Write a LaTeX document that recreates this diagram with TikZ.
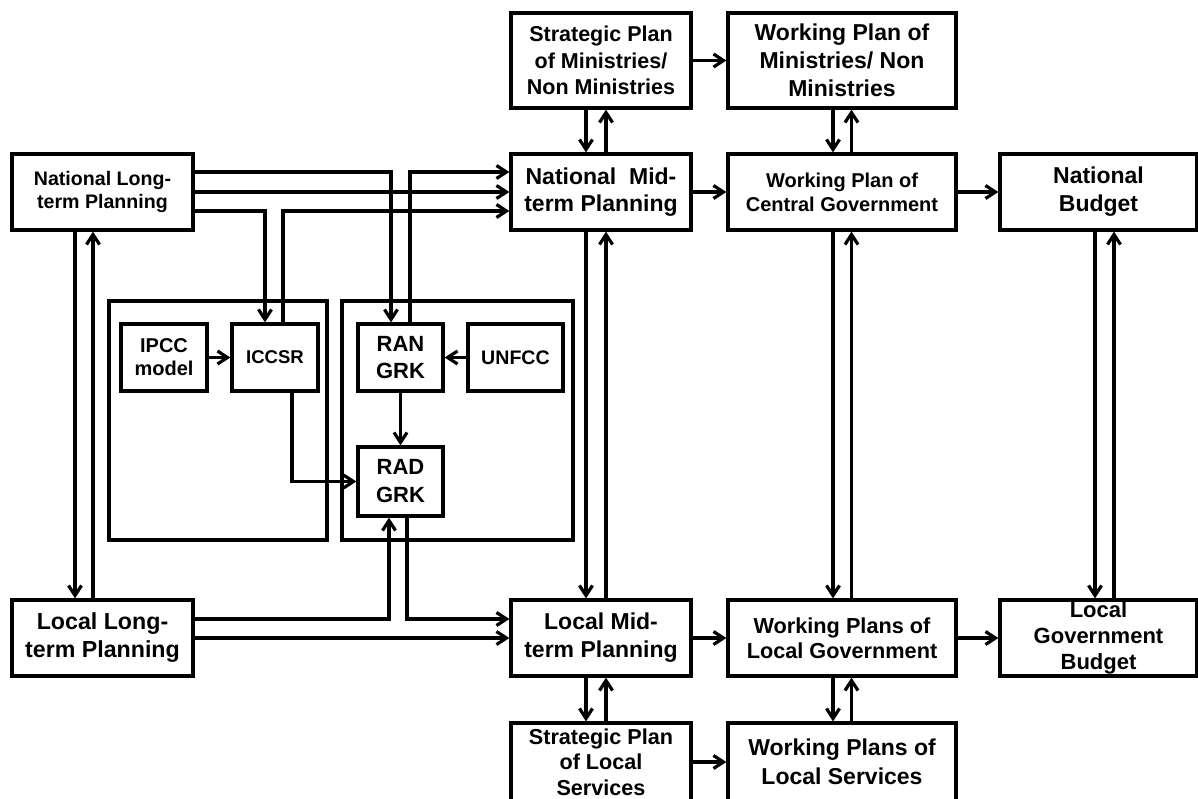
\documentclass[tikz,border=0pt]{standalone}
\usepackage{fontspec}
\setmainfont{Liberation Sans}
\usetikzlibrary{arrows.meta,calc}

\begin{document}
\begin{tikzpicture}[x=1pt,y=-1pt,
  line width=3.2pt,
  >={Straight Barb[length=10pt,width=13pt]},
  box/.style={draw, rectangle, inner sep=0pt, align=center},
  txt/.style 2 args={font={\fontsize{#1pt}{#2pt}\selectfont\bfseries}},
  wide/.style={minimum width=228pt},
  mid/.style={minimum width=180pt},
  row/.style={minimum height=76pt}
]
\clip (0,0) rectangle (1198,798);
\fill[white] (0,0) rectangle (1198,798);

% group frames
\draw (109,301) rectangle (327,540);
\draw (342,301) rectangle (573,540);

% long-term planning
\node[box, minimum width=181pt, row, txt={19.6}{23}] (NLP) at (102.5,192) {National Long-\\term Planning};
\node[box, minimum width=181pt, row, txt={23.2}{28}] (LLP) at (102.5,638) {Local Long-\\term Planning};

% national level
\node[box, mid, minimum height=95pt, txt={21.5}{26.5}] (SPM) at (601,60.5) {Strategic Plan\\of Ministries/\\Non Ministries};
\node[box, wide, minimum height=95pt, txt={23}{28}] (WPM) at (842,60.5) {Working Plan of\\Ministries/ Non\\Ministries};
\node[box, mid, row, txt={23}{27}] (NMP) at (601,192) {National\ \ Mid-\\term Planning};
\node[box, wide, row, txt={20}{24}] (WPC) at (842,192) {Working Plan of\\Central Government};
\node[box, minimum width=197pt, row, txt={23}{28}] (NB) at (1098.5,192) {National\\Budget};

% local level
\node[box, mid, row, txt={23}{28}] (LMP) at (601,638) {Local Mid-\\term Planning};
\node[box, wide, row, txt={21.7}{25}] (WPLG) at (842,638) {Working Plans of\\Local Government};
\node[box, minimum width=197pt, row, txt={22}{26}] (LGB) at (1098.5,638) {Local\\Government\\Budget};
\node[box, mid, minimum height=78pt, txt={21.6}{25.5}] (SPLS) at (601,762) {Strategic Plan\\of Local\\Services};
\node[box, wide, minimum height=78pt, txt={23}{29}] (WPLS) at (842,762) {Working Plans of\\Local Services};

% climate inputs
\node[box, minimum width=86pt, minimum height=67pt, txt={20}{23}] (IPCC) at (164,357.5) {IPCC\\model};
\node[box, minimum width=86pt, minimum height=67pt, txt={18.5}{22}] (ICCSR) at (275,357.5) {ICCSR};
\node[box, minimum width=85pt, minimum height=67pt, txt={22}{27}] (RAN) at (400.5,357.5) {RAN\\GRK};
\node[box, minimum width=95pt, minimum height=67pt, txt={19.6}{23}] (UNFCC) at (515.5,357.5) {UNFCC};
\node[box, minimum width=85pt, minimum height=69pt, txt={22}{28}] (RAD) at (400.5,481.5) {RAD\\GRK};

% inner links
\draw[->] (IPCC) -- (ICCSR);
\draw[->] (UNFCC) -- (RAN);
\draw[->] (RAN) -- (RAD);
\draw[->] ($(ICCSR.south)+(17,0)$) |- (RAD.west);

% national long-term outputs
\draw[->] ($(NLP.east)+(0,-20)$) -| ($(RAN.north)+(-9.5,0)$);
\draw[->] ($(RAN.north)+(9.5,0)$) |- ($(NMP.west)+(0,-20)$);
\draw[->] (NLP.east) -- (NMP.west);
\draw[->] ($(NLP.east)+(0,19)$) -| ($(ICCSR.north)+(-10,0)$);
\draw[->] ($(ICCSR.north)+(8,0)$) |- ($(NMP.west)+(0,19)$);

% local long-term outputs
\draw[->] ($(LLP.east)+(0,-19)$) -| ($(RAD.south)+(-11.5,0)$);
\draw[->] ($(RAD.south)+(6.5,0)$) |- ($(LMP.west)+(0,-19)$);
\draw[->] (LLP.east) -- (LMP.west);

% horizontal flow
\draw[->] (SPM) -- (WPM);
\draw[->] (NMP) -- (WPC);
\draw[->] (WPC) -- (NB);
\draw[->] (LMP) -- (WPLG);
\draw[->] (WPLG) -- (LGB);
\draw[->] (SPLS) -- (WPLS);

% vertical two-way links
\draw[->] ($(NLP.south)+(-27.5,0)$) -- ($(LLP.north)+(-27.5,0)$);
\draw[->] ($(LLP.north)+(-9.5,0)$) -- ($(NLP.south)+(-9.5,0)$);

\draw[->] ($(SPM.south)+(-15,0)$) -- ($(NMP.north)+(-15,0)$);
\draw[->] ($(NMP.north)+(5,0)$) -- ($(SPM.south)+(5,0)$);
\draw[->] ($(NMP.south)+(-15,0)$) -- ($(LMP.north)+(-15,0)$);
\draw[->] ($(LMP.north)+(5,0)$) -- ($(NMP.south)+(5,0)$);
\draw[->] ($(LMP.south)+(-15,0)$) -- ($(SPLS.north)+(-15,0)$);
\draw[->] ($(SPLS.north)+(5,0)$) -- ($(LMP.south)+(5,0)$);

\draw[->] ($(WPM.south)+(-9,0)$) -- ($(WPC.north)+(-9,0)$);
\draw[->] ($(WPC.north)+(9.5,0)$) -- ($(WPM.south)+(9.5,0)$);
\draw[->] ($(WPC.south)+(-9,0)$) -- ($(WPLG.north)+(-9,0)$);
\draw[->] ($(WPLG.north)+(9.5,0)$) -- ($(WPC.south)+(9.5,0)$);
\draw[->] ($(WPLG.south)+(-9,0)$) -- ($(WPLS.north)+(-9,0)$);
\draw[->] ($(WPLS.north)+(9.5,0)$) -- ($(WPLG.south)+(9.5,0)$);

\draw[->] ($(NB.south)+(-3.5,0)$) -- ($(LGB.north)+(-3.5,0)$);
\draw[->] ($(LGB.north)+(15.5,0)$) -- ($(NB.south)+(15.5,0)$);
\end{tikzpicture}
\end{document}
